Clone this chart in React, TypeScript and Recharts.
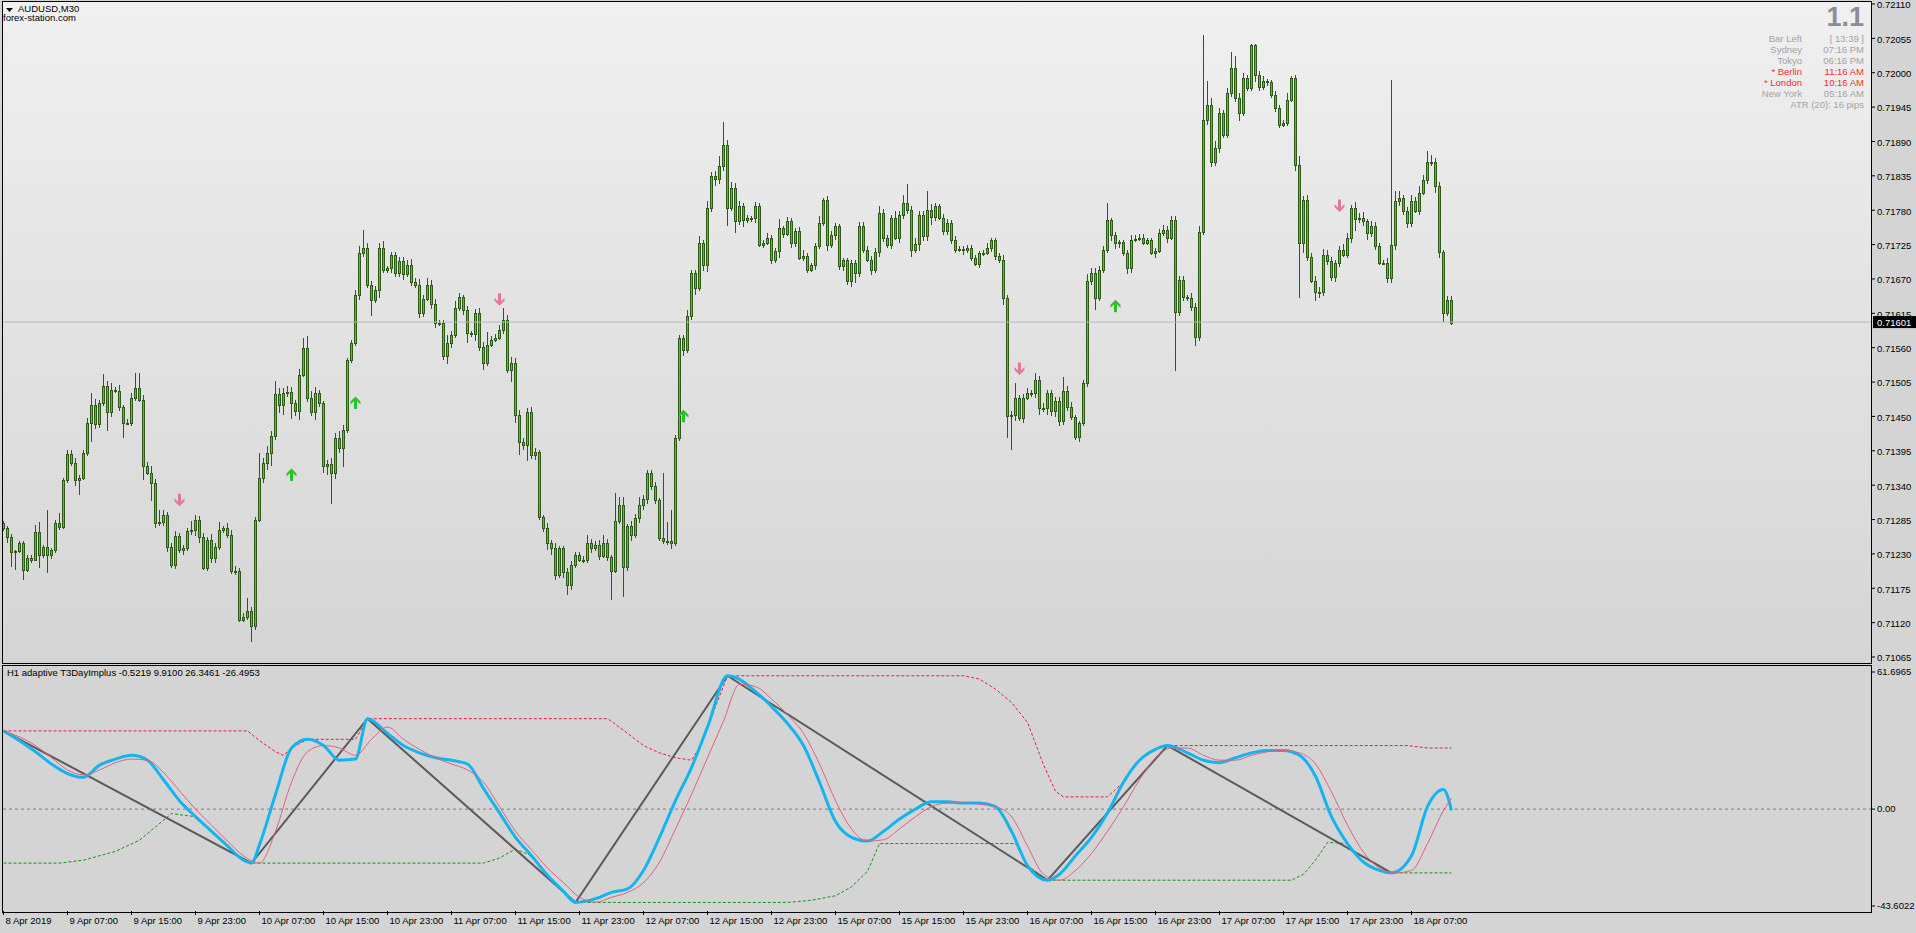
import React from 'react';
import { ComposedChart, Bar, Line, Scatter, XAxis, YAxis, ReferenceLine } from 'recharts';

// ---- price data (in points, 1 point = 0.00001) ----
const firstOpen = 71280;
const closes = [
71271,71257,71233,71235,71247,71204,71224,71221,71265,71228,
71241,71228,71236,71279,71273,71348,71390,71376,71349,71352,
71392,71439,71468,71438,71471,71498,71457,71493,71491,71465,
71440,71439,71480,71495,71477,71371,71360,71344,71280,71281,
71292,71241,71212,71258,71237,71240,71266,71268,71285,71257,
71208,71252,71223,71241,71269,71271,71260,71202,71202,71125,
71129,71139,71114,71285,71352,71375,71391,71418,71486,71468,
71487,71489,71471,71459,71516,71559,71479,71457,71487,71471,
71371,71374,71360,71415,71399,71429,71541,71568,71645,71711,
71720,71661,71636,71652,71720,71685,71687,71709,71679,71699,
71678,71692,71665,71660,71615,71638,71660,71630,71600,71599,
71546,71568,71581,71624,71641,71620,71583,71582,71616,71561,
71536,71565,71573,71576,71588,71605,71525,71535,71452,71409,
71404,71457,71388,71393,71289,71271,71248,71239,71197,71239,
71201,71180,71213,71229,71221,71221,71248,71239,71244,71227,
71248,71225,71203,71282,71309,71209,71274,71260,71288,71309,
71318,71360,71339,71316,71255,71250,71251,71248,71415,71575,
71557,71610,71679,71656,71727,71693,71783,71835,71830,71851,
71885,71784,71815,71763,71786,71765,71767,71767,71787,71725,
71728,71736,71700,71715,71751,71742,71763,71727,71747,71704,
71707,71685,71692,71722,71760,71796,71725,71741,71754,71690,
71700,71667,71695,71679,71755,71717,71701,71685,71713,71776,
71735,71724,71767,71736,71772,71792,71780,71717,71726,71772,
71738,71780,71769,71786,71768,71746,71760,71732,71717,71718,
71716,71719,71704,71694,71711,71712,71719,71732,71707,71700,
71639,71450,71452,71479,71448,71480,71488,71487,71509,71464,
71463,71487,71459,71475,71443,71490,71465,71449,71417,71439,
71503,71666,71680,71640,71685,71717,71764,71741,71728,71729,
71711,71688,71733,71734,71736,71728,71732,71712,71715,71744,
71748,71736,71764,71617,71669,71641,71639,71625,71577,71745,
71925,71948,71857,71880,71935,71901,71967,72007,71959,71935,
71991,71976,72044,71997,71977,71986,71985,71965,71943,71917,
71920,71957,71992,71852,71728,71796,71705,71667,71649,71649,
71708,71699,71673,71695,71716,71709,71735,71783,71766,71767,
71762,71743,71755,71723,71696,71696,71672,71725,71795,71800,
71779,71759,71795,71779,71808,71828,71857,71857,71819,71713,
71615,71637,71600
];
const wickUp = [
3,4,5,2,4,3,4,5,12,16, 3,60,4,5,16,4,6,6,8,5, 5,8,20,10,6,20,8,10,4,10,
3,6,8,25,25,8,6,10,6,20, 8,5,6,8,5,5,6,15,8,6, 6,5,10,6,12,3,8,8,8,6,
6,20,6,4,40,8,12,8,20,10, 8,10,8,6,10,17,20,12,10,6, 4,6,10,8,12,8,3,4,8,12,
28,8,6,6,8,10,4,4,4,6, 6,8,10,6,10,6,12,8,8,4, 6,12,6,10,6,4,6,4,6,8,
8,20,6,6,8,18,8,10,8,8, 6,6,8,6,4,4,8,4,8,4, 4,6,6,4,4,6,12,6,6,8,
12,6,4,46,12,12,4,8,6,12, 6,4,4,6,4,105,30,50,6,6, 6,10,6,6,12,6,12,6,8,15,
36,8,10,8,8,6,6,4,6,4, 4,8,4,4,15,4,6,4,4,6, 10,4,4,6,10,4,6,6,6,4,
4,4,6,6,6,6,6,6,6,10, 6,6,6,12,6,12,30,6,10,6, 6,30,10,6,4,6,6,4,6,4,
4,6,6,4,4,4,8,4,4,4, 8,6,6,24,6,6,8,4,10,6, 8,6,6,6,6,23,8,8,4,4,
6,12,8,8,6,6,27,4,4,4, 4,6,8,6,6,6,4,4,4,6, 8,6,6,6,6,6,4,8,6,10,
135,39,11,10,8,6,8,26,20,8, 8,6,2,2,6,8,4,4,6,6, 4,10,3,4,14,6,8,6,8,8,
10,8,6,6,6,10,8,6,10,8, 10,4,8,6,4,4,8,264,16,10, 4,6,10,6,10,8,18,12,6,6,
4,6,6
];
const wickDown = [
5,10,24,28,4,15,3,6,3,20, 5,28,6,5,4,3,4,5,10,25, 4,6,30,8,6,4,30,8,4,6,
25,3,4,6,4,22,4,30,8,6, 6,8,4,6,5,8,6,5,10,10, 3,6,8,8,4,6,5,4,5,4,
4,4,25,5,4,8,10,20,6,12, 15,6,25,8,15,3,6,6,12,6, 12,15,50,10,8,30,6,6,6,8,
6,6,25,4,12,6,6,8,6,6, 10,5,6,4,8,6,4,8,8,4, 6,12,8,6,6,8,16,5,12,6,
12,6,4,4,4,6,6,20,12,20, 8,25,6,8,4,6,12,10,8,6, 10,15,8,6,4,6,6,8,4,6,
4,6,46,4,4,48,6,10,4,8, 8,8,6,6,4,4,6,10,6,4, 10,6,6,12,6,10,12,6,12,8,
8,30,6,20,6,12,6,6,8,4, 6,4,6,4,12,6,4,8,6,4, 6,6,4,8,4,6,10,6,8,6,
8,6,10,15,6,6,4,8,6,8, 6,4,6,4,8,6,6,12,6,12, 8,8,12,6,4,6,6,6,6,4,
8,4,6,4,6,4,4,6,6,4, 10,34,54,10,6,8,4,6,8,12, 6,10,8,10,8,6,6,4,4,8,
4,6,6,20,6,6,6,10,10,8, 4,10,8,4,4,4,4,4,8,4, 6,8,4,94,6,6,4,6,14,6,
4,8,8,6,8,6,6,6,6,12, 4,6,6,12,6,4,6,6,6,6, 4,6,4,10,89,16,6,4,14,10,
6,6,6,8,6,4,6,8,20,6, 8,10,6,6,4,4,8,8,8,8, 6,8,6,4,6,4,6,6,12,10,
14,4,4
];
const lastPrice = 71601;
const priceTicks = [72110,72055,72000,71945,71890,71835,71780,71725,71670,71615,71560,71505,71450,71395,71340,71285,71230,71175,71120,71065];

// signal arrows [bar, price]
const downArrows = [[44,71315],[124,71636],[254,71525],[334,71786]];
const upArrows = [[72,71358],[88,71473],[170,71452],[278,71628]];

// time axis
const timeTickBars = [0,16,32,48,64,80,96,112,128,144,160,176,192,208,224,240,256,272,288,304,320,336,352];
const timeLabels = ['8 Apr 2019','9 Apr 07:00','9 Apr 15:00','9 Apr 23:00','10 Apr 07:00','10 Apr 15:00','10 Apr 23:00','11 Apr 07:00','11 Apr 15:00','11 Apr 23:00','12 Apr 07:00','12 Apr 15:00','12 Apr 23:00','15 Apr 07:00','15 Apr 15:00','15 Apr 23:00','16 Apr 07:00','16 Apr 15:00','16 Apr 23:00','17 Apr 07:00','17 Apr 15:00','17 Apr 23:00','18 Apr 07:00'];

// ---- indicator (adaptive T3DayImplus) [bar, value] ----
const t3Main = [[0,35.2],[4,30.8],[8,25.8],[12,20.3],[16,16.0],[20,14.3],[24,19.8],[28,22.5],[32,24.2],[36,22.0],[40,13.2],[44,3.8],[48,-3.4],[52,-10.0],[56,-16.6],[60,-23.0],[62,-24.3],[64,-16.0],[68,6.6],[72,27.5],[76,31.4],[80,28.6],[84,22.0],[88,22.5],[91,40.7],[96,34.1],[100,28.6],[104,25.3],[108,23.1],[112,22.0],[116,20.3],[120,9.3],[124,-1.7],[128,-12.7],[132,-21.0],[136,-29.8],[140,-37.0],[143,-42.0],[148,-40.3],[152,-37.5],[156,-35.9],[160,-27.6],[164,-12.7],[168,3.8],[172,18.7],[176,36.9],[181,60.0],[184,58.4],[188,52.9],[192,46.2],[196,38.5],[200,28.6],[204,12.1],[208,-5.6],[212,-12.7],[216,-14.4],[220,-10.0],[224,-4.5],[228,0.0],[232,3.3],[236,3.3],[240,2.7],[244,2.7],[248,1.1],[252,-10.0],[256,-25.4],[261,-32.0],[264,-29.3],[268,-21.0],[272,-12.7],[276,-1.7],[280,12.1],[284,22.0],[288,26.9],[291,28.6],[296,25.3],[300,22.0],[304,20.9],[308,23.1],[312,25.3],[316,26.4],[320,26.4],[324,24.2],[328,14.8],[332,-3.4],[336,-15.5],[340,-23.8],[344,-27.6],[347,-28.7],[352,-21.0],[356,1.1],[360,8.8],[362,-0.6]];
const t3Signal = [[0,35.2],[4,32.5],[8,28.6],[12,23.1],[16,17.6],[20,15.4],[24,17.6],[28,20.9],[32,22.5],[36,22.0],[40,16.5],[44,8.2],[48,0.0],[52,-7.2],[56,-14.4],[60,-21.0],[64,-24.3],[68,-10.0],[72,12.1],[76,25.8],[80,28.6],[84,27.5],[88,24.2],[92,31.4],[96,36.9],[100,31.4],[104,26.9],[108,23.1],[112,20.3],[116,17.6],[120,12.1],[124,1.1],[128,-10.0],[132,-18.3],[136,-26.5],[140,-33.1],[144,-39.7],[148,-41.9],[152,-39.7],[156,-37.5],[160,-33.1],[164,-23.8],[168,-8.9],[172,6.6],[176,23.1],[180,39.6],[184,56.2],[188,55.1],[192,49.6],[196,42.5],[200,34.1],[204,20.3],[208,3.8],[212,-8.9],[216,-14.4],[220,-13.8],[224,-8.9],[228,-3.4],[232,1.1],[236,2.7],[240,2.7],[244,2.2],[248,1.1],[252,-3.4],[256,-16.6],[260,-29.3],[264,-32.0],[268,-27.6],[272,-19.9],[276,-10.0],[280,1.1],[284,13.2],[288,23.1],[292,27.5],[296,27.5],[300,24.2],[304,22.0],[308,22.0],[312,24.2],[316,25.8],[320,26.4],[324,25.3],[328,20.3],[332,7.7],[336,-7.2],[340,-19.4],[344,-26.5],[348,-28.7],[352,-27.6],[356,-15.5],[360,-0.6],[362,4.9]];
const zigzag = [[0,35.2],[62,-24.3],[91,40.7],[143,-42.0],[181,60.0],[261,-32.0],[291,28.6],[347,-28.7]];
const upperBand = [[0,35.2],[61,35.2],[64,30.8],[68,25.8],[70,24.2],[72,27.5],[76,31.4],[88,31.4],[91,40.7],[151,40.7],[152,39.5],[156,34.1],[160,28.6],[164,25.3],[168,23.1],[172,22.0],[174,27.8],[176,36.9],[181,60.0],[240,60.0],[244,58.5],[248,54.0],[252,48.0],[256,39.0],[260,20.0],[263,8.0],[265,5.5],[276,5.5],[280,12.1],[284,22.0],[288,26.9],[291,28.6],[351,28.6],[356,27.5],[362,27.5]];
const lowerBand = [[0,-24.3],[14,-24.3],[20,-23.0],[28,-19.0],[34,-14.0],[38,-8.0],[42,-2.0],[44,-2.5],[48,-3.4],[52,-10.0],[56,-16.6],[60,-23.0],[62,-24.3],[120,-24.3],[124,-22.0],[128,-18.0],[132,-21.0],[136,-29.8],[140,-37.0],[143,-42.0],[196,-42.0],[202,-41.0],[208,-39.0],[212,-35.0],[216,-28.0],[219,-15.5],[253,-15.5],[256,-25.4],[261,-32.0],[322,-32.0],[325,-29.3],[328,-23.0],[331,-15.0],[336,-15.5],[340,-23.8],[344,-27.6],[347,-28.7],[362,-28.7]];
const indTicks = [61.6965, 0, -43.6022];
const indTickLabels = ['61.6965', '0.00', '-43.6022'];
const indTitle = 'H1  adaptive T3DayImplus -0.5219 9.9100 26.3461 -26.4953';

// info box
const infoRows = [
  ['Bar Left', '[ 13:39 ]', false],
  ['Sydney', '07:16 PM', false],
  ['Tokyo', '06:16 PM', false],
  ['* Berlin', '11:16 AM', true],
  ['* London', '10:16 AM', true],
  ['New York', '05:16 AM', false],
];

const candles = closes.map((c, i) => {
  const o = i === 0 ? firstOpen : closes[i - 1];
  return { x: i, open: o, close: c, high: Math.max(o, c) + wickUp[i], low: Math.min(o, c) - wickDown[i] };
});
const toXY = (arr: number[][]) => arr.map(([x, v]) => ({ x, v }));

const FONT = "'Liberation Sans', Arial, sans-serif";
const X_DOMAIN: [number, number] = [-0.375, 467.125];
const WICK = '#2b5b14';

const Candle = (props: any) => {
  const { x, y, width, height, payload } = props;
  if (x == null || !payload) return null;
  const cx = x + width / 2;
  const top = Math.min(y, y + height);
  const bot = Math.max(y, y + height);
  const range = payload.high - payload.low;
  const k = range > 0 ? (bot - top) / range : 0;
  const yo = top + (payload.high - payload.open) * k;
  const yc = top + (payload.high - payload.close) * k;
  let bt = Math.round(Math.min(yo, yc));
  let bb = Math.round(Math.max(yo, yc));
  if (bb - bt < 1) bb = bt + 1;
  const bull = payload.close >= payload.open;
  return (
    <g shapeRendering="crispEdges">
      <line x1={cx} x2={cx} y1={top} y2={bot} stroke={WICK} strokeWidth={1} />
      <rect x={cx - 1.5} y={bt} width={3} height={bb - bt + 1} fill={WICK} />
      {bb - bt > 1 && <rect x={cx - 0.5} y={bt + 1} width={1} height={bb - bt - 1} fill={bull ? '#3ccf2e' : '#d9764a'} />}
    </g>
  );
};

const DownArrow = (p: any) => (
  <path transform={`translate(${p.cx},${p.cy})`} d="M-1.5,-7 L1.5,-7 L1.5,1 L5,-2.5 L5,0.5 L0,5.5 L-5,0.5 L-5,-2.5 L-1.5,1 Z" fill="#e4789a" />
);
const UpArrow = (p: any) => (
  <path transform={`translate(${p.cx},${p.cy})`} d="M-1.5,7 L1.5,7 L1.5,-1 L5,2.5 L5,-0.5 L0,-5.5 L-5,-0.5 L-5,2.5 L-1.5,-1 Z" fill="#27c427" />
);

const PriceTag = (props: any) => {
  const vb = props.viewBox || {};
  const x0 = (vb.x || 0) + (vb.width || 0);
  const yy = vb.y || 0;
  return (
    <g>
      <rect x={x0 + 1} y={yy - 6} width={43} height={12} fill="#000" />
      <text x={x0 + 5} y={yy + 0.5} dy="0.355em" fill="#fff" fontSize={9.5} fontFamily={FONT}>{(lastPrice / 100000).toFixed(5)}</text>
    </g>
  );
};

const PriceTick = (p: any) => (
  <text x={p.x} y={p.y + 1} dy="0.355em" fontSize={9.5} fontFamily={FONT} fill="#000" textAnchor="start">
    {(p.payload.value / 100000).toFixed(5)}
  </text>
);

const IndTick = (p: any) => (
  <text x={p.x} y={p.y} dy="0.355em" fontSize={9.5} fontFamily={FONT} fill="#000" textAnchor="start">
    {indTickLabels[indTicks.indexOf(p.payload.value)]}
  </text>
);

const TimeTick = (p: any) => {
  const idx = timeTickBars.indexOf(p.payload.value);
  return (
    <text x={p.x + 2} y={p.y} dy="0.71em" fontSize={9.5} fontFamily={FONT} fill="#000" textAnchor="start">{timeLabels[idx]}</text>
  );
};

export default function App() {
  const txt: React.CSSProperties = { position: 'absolute', fontFamily: FONT, fontSize: 9.5, lineHeight: '11px', whiteSpace: 'nowrap' };
  return (
    <div style={{ position: 'absolute', left: 0, top: 0, width: 1916, height: 933, overflow: 'hidden', background: '#d4d4d4', fontFamily: FONT }}>
      <div style={{ position: 'absolute', left: 2, top: 1, width: 1870, height: 663, background: 'linear-gradient(to bottom, #f0f0f0 0%, #e2e2e2 50%, #d5d5d5 100%)' }} />
      <div style={{ position: 'absolute', left: 0, top: 0 }}>
        <ComposedChart width={1916} height={663} data={candles} margin={{ top: 2, right: 0, left: 2, bottom: 0 }}>
          <XAxis dataKey="x" type="number" domain={X_DOMAIN} allowDataOverflow hide />
          <YAxis orientation="right" width={44} domain={[71055.4, 72113.2]} allowDataOverflow ticks={priceTicks} interval={0}
            axisLine={false} tickLine={{ stroke: '#000' }} tickSize={3} tickMargin={2} tick={<PriceTick />} />
          <ReferenceLine y={lastPrice} stroke="#b9b9b9" strokeWidth={1} label={<PriceTag />} />
          <Bar dataKey={(d: any) => [d.low, d.high]} barSize={3} shape={<Candle />} isAnimationActive={false} />
          <Scatter data={downArrows.map(([x, y]) => ({ x, y }))} dataKey="y" shape={<DownArrow />} isAnimationActive={false} />
          <Scatter data={upArrows.map(([x, y]) => ({ x, y }))} dataKey="y" shape={<UpArrow />} isAnimationActive={false} />
        </ComposedChart>
      </div>
      <div style={{ position: 'absolute', left: 0, top: 665 }}>
        <ComposedChart width={1916} height={268} margin={{ top: 1, right: 0, left: 2, bottom: 0 }}>
          <XAxis dataKey="x" type="number" domain={X_DOMAIN} allowDataOverflow ticks={timeTickBars} interval={0}
            height={22} axisLine={false} tickLine={{ stroke: '#000' }} tickSize={4} tickMargin={2} tick={<TimeTick />} />
          <YAxis orientation="right" width={44} domain={[-45.853, 64.397]} allowDataOverflow ticks={indTicks} interval={0}
            axisLine={false} tickLine={{ stroke: '#000' }} tickSize={3} tickMargin={2} tick={<IndTick />} />
          <ReferenceLine y={0} stroke="#7c7c7c" strokeDasharray="3 3" />
          <Line data={toXY(upperBand)} dataKey="v" type="linear" stroke="#e0223c" strokeWidth={1} strokeDasharray="3 2" dot={false} isAnimationActive={false} />
          <Line data={toXY(lowerBand)} dataKey="v" type="linear" stroke="#17901a" strokeWidth={1} strokeDasharray="3 2" dot={false} isAnimationActive={false} />
          <Line data={toXY(zigzag)} dataKey="v" type="linear" stroke="#5a5a5a" strokeWidth={2} dot={false} isAnimationActive={false} />
          <Line data={toXY(t3Main)} dataKey="v" type="monotone" stroke="#14b4f0" strokeWidth={3} dot={false} isAnimationActive={false} />
          <Line data={toXY(t3Signal)} dataKey="v" type="monotone" stroke="#e0607e" strokeWidth={1} dot={false} isAnimationActive={false} />
        </ComposedChart>
      </div>
      {/* panel borders */}
      <div style={{ position: 'absolute', left: 2, top: 1, width: 1870, height: 663, border: '1px solid #000', boxSizing: 'border-box', pointerEvents: 'none' }} />
      <div style={{ position: 'absolute', left: 2, top: 665, width: 1870, height: 248, border: '1px solid #000', boxSizing: 'border-box', pointerEvents: 'none' }} />
      {/* titles */}
      <svg style={{ position: 'absolute', left: 6, top: 8 }} width={8} height={5}>
        <polygon points="0,0 7,0 3.5,4" fill="#000" />
      </svg>
      <div style={{ ...txt, left: 18, top: 3, color: '#000' }}>AUDUSD,M30</div>
      <div style={{ ...txt, left: 3, top: 12, color: '#000' }}>forex-station.com</div>
      <div style={{ ...txt, left: 7, top: 667, color: '#000' }}>{indTitle}</div>
      {/* info box */}
      <div style={{ ...txt, right: 1916 - 1864, top: 3, fontSize: 27, lineHeight: '28px', fontWeight: 'bold', color: '#8a8f97' }}>1.1</div>
      {infoRows.map((r, i) => (
        <React.Fragment key={i}>
          <div style={{ ...txt, right: 1916 - 1802, top: 33 + i * 11, color: r[2] ? '#ff2a2a' : '#a3a3a3', textAlign: 'right' }}>{r[0] as string}</div>
          <div style={{ ...txt, right: 1916 - 1864, top: 33 + i * 11, color: r[2] ? '#ff2a2a' : '#a3a3a3', textAlign: 'right' }}>{r[1] as string}</div>
        </React.Fragment>
      ))}
      <div style={{ ...txt, right: 1916 - 1864, top: 99, color: '#a3a3a3' }}>ATR (20): 16 pips</div>
    </div>
  );
}
